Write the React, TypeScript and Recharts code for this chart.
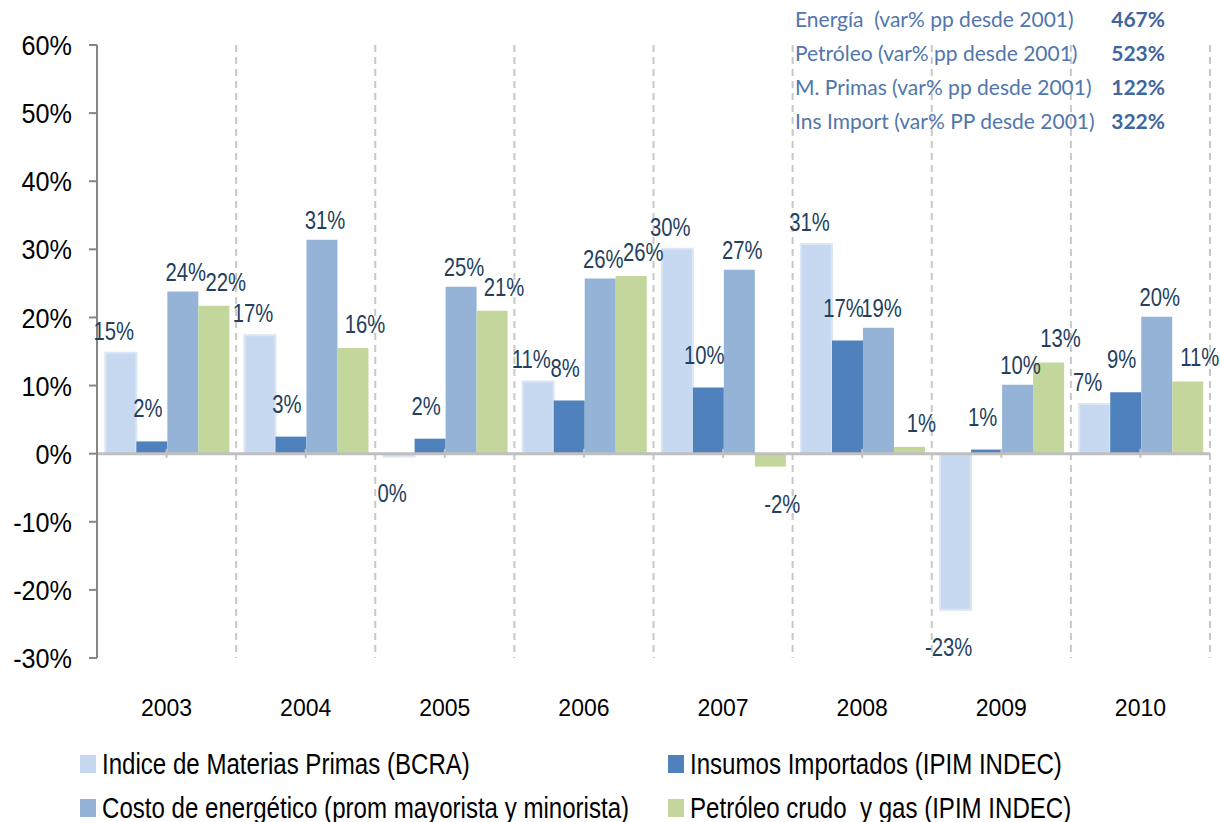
import { BarChart, Bar, XAxis, YAxis, CartesianGrid, ReferenceLine, LabelList } from "recharts"

const years = ["2003", "2004", "2005", "2006", "2007", "2008", "2009", "2010"]
const materiasPrimas = [14.8, 17.4, -0.4, 10.6, 30.1, 30.8, -22.9, 7.3]
const insumosImportados = [1.8, 2.5, 2.2, 7.8, 9.7, 16.6, 0.6, 9.0]
const costoEnergetico = [23.8, 31.4, 24.5, 25.7, 27.0, 18.5, 10.1, 20.1]
const petroleoGas = [21.7, 15.5, 21.0, 26.1, -1.9, 1.0, 13.4, 10.6]
const yTicks = [-30, -20, -10, 0, 10, 20, 30, 40, 50, 60]

const boxLabels = [
  "Energía  (var% pp desde 2001)",
  "Petróleo (var% pp desde 2001)",
  "M. Primas (var% pp desde 2001)",
  "Ins Import (var% PP desde 2001)",
]
const boxValues = ["467%", "523%", "122%", "322%"]

// labelDx / labelGap: nudge of the data labels, like the hand-placed Excel ones
const series = [
  { key: "mp", name: "Indice de Materias Primas (BCRA)", color: "#c6d9f1", stroke: "#dbe5f3", labelDx: -7, labelGap: 13 },
  { key: "ii", name: "Insumos Importados (IPIM INDEC)", color: "#4f81bd", stroke: "none", labelDx: -4, labelGap: 24 },
  { key: "ce", name: "Costo de energético (prom mayorista y minorista)", color: "#95b3d7", stroke: "none", labelDx: 3, labelGap: 11 },
  { key: "pg", name: "Petróleo crudo  y gas (IPIM INDEC)", color: "#c3d69b", stroke: "none", labelDx: 12, labelGap: 15 },
]

const data = years.map((year, i) => ({
  year,
  mp: materiasPrimas[i],
  ii: insumosImportados[i],
  ce: costoEnergetico[i],
  pg: petroleoGas[i],
}))

const font = "'Liberation Sans', Arial, sans-serif"

const pct = (v: number) => {
  const r = Math.round(v)
  return `${r === 0 ? 0 : r}%`
}

// Calibri-ish look: squeeze Liberation Sans horizontally
const makeLabel = (dx: number, gap: number) => (props: any) => {
  const { x, y, width, height, value } = props
  const top = Math.min(y, y + height)
  const bottom = Math.max(y, y + height)
  const neg = value < 0
  const cx = x + width / 2 + dx
  const cy = neg ? bottom + 46 : top - gap
  return (
    <text
      transform={`translate(${cx},${cy}) scale(0.78,1)`}
      textAnchor="middle"
      fill="#243f60"
      fontSize={26}
      fontFamily={font}
    >
      {pct(value)}
    </text>
  )
}

const YTick = (props: any) => {
  const { x, y, payload } = props
  return (
    <text
      transform={`translate(${x},${y}) scale(0.9,1)`}
      textAnchor="end"
      dy="0.36em"
      fill="#000"
      fontSize={28}
      fontFamily={font}
    >
      {`${payload.value}%`}
    </text>
  )
}

export default function App() {
  return (
    <div style={{ position: "absolute", left: 0, top: 0, width: 1220, height: 822, background: "#fff" }}>
      <BarChart
        width={1220}
        height={760}
        data={data}
        margin={{ top: 45, right: 10, left: 17, bottom: 42 }}
        barCategoryGap="6%"
        barGap={0}
      >
        <CartesianGrid
          horizontal={false}
          stroke="#c8c8c8"
          strokeWidth={2}
          strokeDasharray="7 5"
          verticalCoordinatesGenerator={({ offset }: any) =>
            years.map((_, i) => offset.left + ((i + 1) * offset.width) / years.length)
          }
        />
        <XAxis
          dataKey="year"
          axisLine={false}
          tickLine={false}
          height={60}
          tickMargin={36}
          tick={{ fontSize: 23, fill: "#000", fontFamily: font }}
        />
        <YAxis
          domain={[-30, 60]}
          ticks={yTicks}
          interval={0}
          width={80}
          tickSize={8}
          tickMargin={17}
          axisLine={{ stroke: "#868686", strokeWidth: 2 }}
          tickLine={{ stroke: "#868686", strokeWidth: 2 }}
          tick={<YTick />}
        />
        {series.map((s) => (
          <Bar
            key={s.key}
            dataKey={s.key}
            name={s.name}
            fill={s.color}
            stroke={s.stroke}
            strokeWidth={s.stroke === "none" ? 0 : 2}
            isAnimationActive={false}
          >
            <LabelList dataKey={s.key} content={makeLabel(s.labelDx, s.labelGap)} />
          </Bar>
        ))}
        <ReferenceLine y={0} stroke="#bfbfbf" strokeWidth={3} />
        {years.map((yr) => (
          <ReferenceLine
            key={yr}
            segment={[
              { x: yr, y: 0.7 },
              { x: yr, y: -0.6 },
            ]}
            stroke="#bfbfbf"
            strokeWidth={2}
          />
        ))}
      </BarChart>

      <div
        style={{
          position: "absolute",
          left: 795,
          top: 6,
          width: 370,
          fontFamily: "Lato, 'Open Sans', sans-serif",
          fontSize: 21,
          color: "#5176ad",
        }}
      >
        {boxLabels.map((l, i) => (
          <div key={l} style={{ display: "flex", justifyContent: "space-between", height: 34 }}>
            <span style={{ whiteSpace: "pre" }}>{l}</span>
            <span style={{ fontWeight: 700, color: "#41659e" }}>{boxValues[i]}</span>
          </div>
        ))}
      </div>

      <div
        style={{
          position: "absolute",
          left: 80,
          top: 746,
          width: 1140,
          display: "grid",
          gridTemplateColumns: "588px 552px",
          rowGap: 8,
          fontFamily: font,
          fontSize: 29,
          color: "#000",
        }}
      >
        {series.map((s) => (
          <div key={s.key} style={{ display: "flex", alignItems: "center", height: 36, overflow: "visible" }}>
            <span
              style={{
                display: "inline-block",
                flexShrink: 0,
                width: 16,
                height: 18,
                background: s.color,
                marginRight: 6,
              }}
            />
            <span
              style={{
                whiteSpace: "pre",
                flexShrink: 0,
                display: "inline-block",
                transform: "scaleX(0.83)",
                transformOrigin: "left center",
              }}
            >
              {s.name}
            </span>
          </div>
        ))}
      </div>
    </div>
  )
}
